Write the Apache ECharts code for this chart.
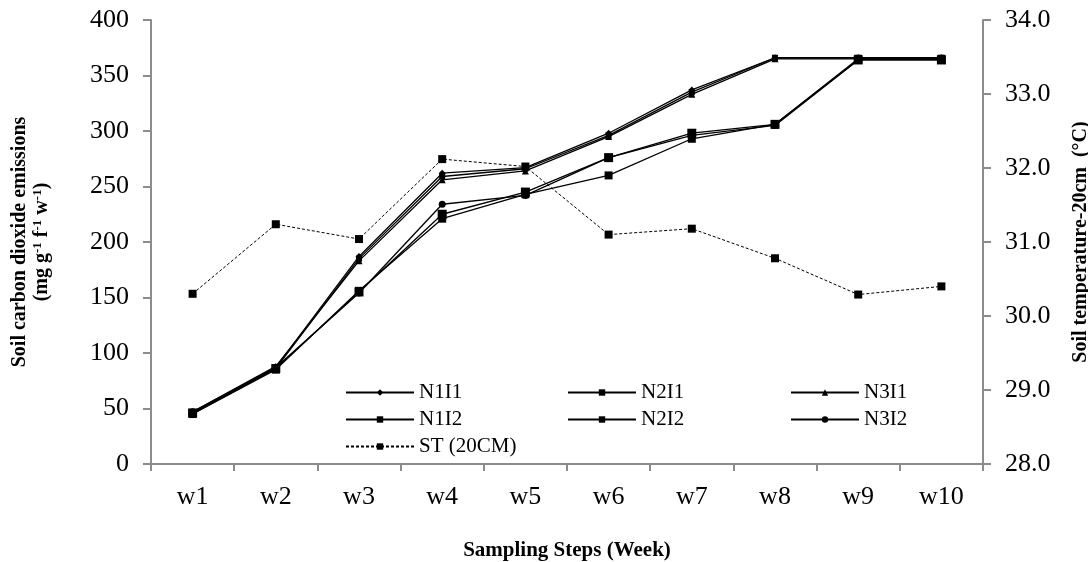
<!DOCTYPE html>
<html>
<head>
<meta charset="utf-8">
<script src="https://cdn.jsdelivr.net/npm/echarts@6/dist/echarts.min.js"></script>
<style>
  html, body { margin: 0; padding: 0; background: #fff; }
  #chart { width: 1088px; height: 562px; }
</style>
</head>
<body>
<div id="chart"></div>
<script>
  // values
  var weeks = ['w1', 'w2', 'w3', 'w4', 'w5', 'w6', 'w7', 'w8', 'w9', 'w10']
  var n1i1 = [46, 87, 187, 262, 267, 298, 337, 366, 366, 366]
  var n2i1 = [45, 86, 185, 259, 266, 296, 335, 366, 366, 366]
  var n3i1 = [47, 88, 183, 256, 264, 295, 333, 365, 365, 365]
  var n1i2 = [46, 86, 155, 225, 245, 276, 298, 306, 364, 364]
  var n2i2 = [45, 85, 156, 221, 243, 260, 293, 306, 365, 365]
  var n3i2 = [47, 87, 154, 234, 242, 276, 296, 305, 364, 364]
  var st20 = [30.3, 31.24, 31.04, 32.12, 32.02, 31.1, 31.18, 30.78, 30.29, 30.4]

  var font = 'Liberation Serif'
  var axisGrey = '#8c8c8c'

  var chart = echarts.init(document.getElementById('chart'))

  function line(name, data, symbol, size, dashed, yIndex) {
    return {
      name: name,
      type: 'line',
      yAxisIndex: yIndex || 0,
      data: data,
      symbol: symbol,
      symbolSize: size,
      animation: false,
      itemStyle: { color: '#000' },
      lineStyle: { color: '#000', width: dashed ? 1 : 1.3, type: dashed ? [3, 2] : 'solid' },
      z: dashed ? 1 : 2
    }
  }

  var legendBase = {
    orient: 'vertical',
    itemWidth: 68,
    itemHeight: 8,
    itemGap: 6,
    textStyle: { fontFamily: font, fontSize: 21, color: '#000' }
  }

  chart.setOption({
    backgroundColor: '#fff',
    grid: { left: 151, right: 105, top: 20, bottom: 98, outerBoundsMode: 'none', containLabel: false },
    legend: [
      Object.assign({ left: 340, top: 377, data: ['N1I1', 'N1I2', 'ST (20CM)'] }, legendBase),
      Object.assign({ left: 562, top: 377, data: ['N2I1', 'N2I2'] }, legendBase),
      Object.assign({ left: 785, top: 377, data: ['N3I1', 'N3I2'] }, legendBase)
    ],
    xAxis: {
      type: 'category',
      data: weeks,
      boundaryGap: true,
      name: 'Sampling Steps (Week)',
      nameLocation: 'middle',
      nameGap: 76,
      nameTextStyle: { fontFamily: font, fontSize: 21, fontWeight: 'bold', color: '#000' },
      axisLine: { lineStyle: { color: axisGrey, width: 2 } },
      axisTick: { show: true, length: 7, lineStyle: { color: axisGrey, width: 2 } },
      axisLabel: { fontFamily: font, fontSize: 26, color: '#000', margin: 20 },
      splitLine: { show: false }
    },
    yAxis: [{
      type: 'value',
      min: 0,
      max: 400,
      interval: 50,
      position: 'left',
      name: '{t|Soil carbon dioxide emissions}\n{u|(mg g}{s|-1}{u| f}{s|-1}{u| w}{s|-1}{u|)}',
      nameLocation: 'middle',
      nameGap: 98,
      nameTextStyle: {
        fontFamily: font, color: '#000',
        rich: {
          t: { fontFamily: font, fontSize: 20, fontWeight: 'bold', lineHeight: 22 },
          u: { fontFamily: font, fontSize: 20, fontWeight: 'bold', lineHeight: 22 },
          s: { fontFamily: font, fontSize: 13, fontWeight: 'bold', verticalAlign: 'top', lineHeight: 22, padding: [0, 0, 10, 0] }
        }
      },
      axisLine: { show: true, lineStyle: { color: axisGrey, width: 2 } },
      axisTick: { show: true, length: 8, lineStyle: { color: axisGrey, width: 2 } },
      axisLabel: { fontFamily: font, fontSize: 26, color: '#000', margin: 22 },
      splitLine: { show: false }
    }, {
      type: 'value',
      min: 28,
      max: 34,
      interval: 1,
      position: 'right',
      name: 'Soil temperature-20cm  (°C)',
      nameLocation: 'middle',
      nameGap: 88,
      nameTextStyle: { fontFamily: font, fontSize: 20, fontWeight: 'bold', color: '#000' },
      axisLine: { show: true, lineStyle: { color: axisGrey, width: 2 } },
      axisTick: { show: true, length: 8, lineStyle: { color: axisGrey, width: 2 } },
      axisLabel: {
        fontFamily: font, fontSize: 26, color: '#000', margin: 22,
        formatter: function (v) { return v.toFixed(1) }
      },
      splitLine: { show: false }
    }],
    series: [
      line('N1I1', n1i1, 'diamond', 7),
      line('N2I1', n2i1, 'rect', 6),
      line('N3I1', n3i1, 'triangle', 7),
      line('N1I2', n1i2, 'rect', 9),
      line('N2I2', n2i2, 'rect', 8),
      line('N3I2', n3i2, 'circle', 7),
      line('ST (20CM)', st20, 'rect', 8, true, 1)
    ]
  })
</script>
</body>
</html>
